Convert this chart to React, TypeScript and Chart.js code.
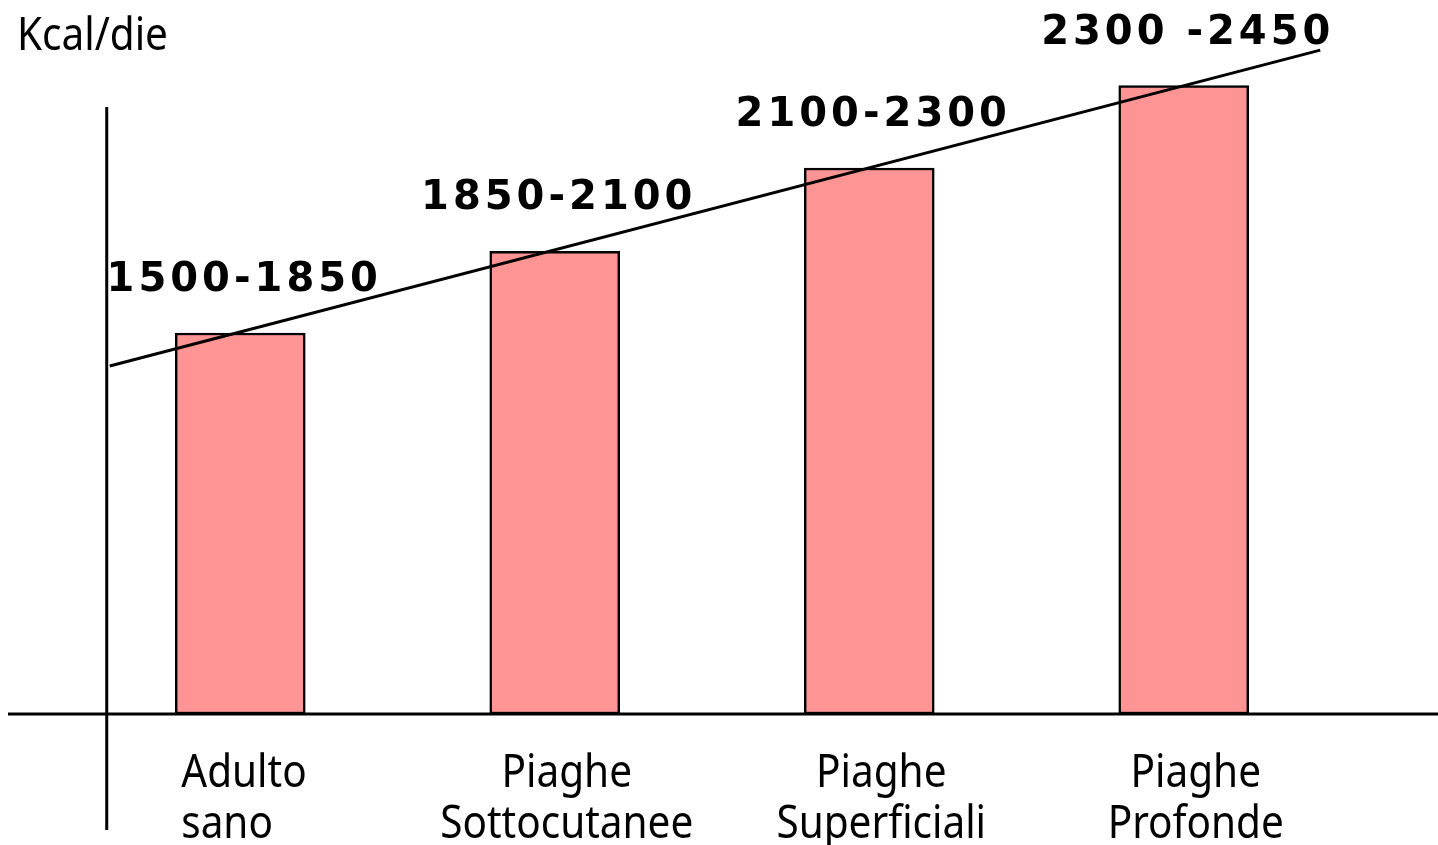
import React, { useEffect, useRef } from "react";
import { Chart, registerables } from "chart.js";

Chart.register(...registerables);

const categoryLines: string[][] = [
  ["Adulto", "sano"],
  ["Piaghe", "Sottocutanee"],
  ["Piaghe", "Superficiali"],
  ["Piaghe", "Profonde"],
];
const rangeLabels: string[] = ["1500-1850", "1850-2100", "2100-2300", "2300 -2450"];
// schematic bar heights (arbitrary units)
const barValues: number[] = [4.62, 5.61, 6.62, 7.62];
// trend line end points (category-index units, same y units)
const trendX: number[] = [-0.415, 3.434];
const trendY: number[] = [4.22, 8.05];
const yMax = 8.5;
const yTitle = "Kcal/die";

const labelAlign: CanvasTextAlign[] = ["left", "center", "center", "center"];

const LABEL_FONT = '45px "Noto Sans", sans-serif';
const LABEL_SX = 0.9;

const drawPlugin = {
  id: "drawExtras",
  afterDatasetsDraw(chart: any) {
    const { ctx, chartArea, scales } = chart;
    const xl = scales.xl;
    const y = scales.y;
    const x = scales.x;
    ctx.save();
    // axes
    ctx.strokeStyle = "#000";
    ctx.lineWidth = 3;
    const y0 = y.getPixelForValue(0);
    ctx.beginPath();
    ctx.moveTo(8, y0);
    ctx.lineTo(chart.width, y0);
    ctx.stroke();
    const ax = xl.getPixelForValue(trendX[0]) - 3;
    ctx.beginPath();
    ctx.moveTo(ax, chartArea.top + 94);
    ctx.lineTo(ax, chartArea.bottom + 116);
    ctx.stroke();

    // range labels above bars
    const meta = chart.getDatasetMeta(0);
    ctx.fillStyle = "#000";
    ctx.font = 'bold 40px "DejaVu Sans", sans-serif';
    (ctx as any).letterSpacing = "4px";
    ctx.textAlign = "center";
    ctx.textBaseline = "alphabetic";
    meta.data.forEach((bar: any, i: number) => {
      ctx.fillText(rangeLabels[i], bar.x + 4, bar.y - 42);
    });
    (ctx as any).letterSpacing = "0px";

    // category labels
    ctx.font = LABEL_FONT;
    categoryLines.forEach((lines, i) => {
      const bar = meta.data[i];
      const cx = labelAlign[i] === "left" ? bar.x - bar.width / 2 + 6 : x.getPixelForValue(i) + 12;
      lines.forEach((t, j) => {
        ctx.save();
        ctx.translate(cx, y0 + 73 + j * 51);
        ctx.scale(LABEL_SX, 1);
        ctx.textAlign = labelAlign[i];
        ctx.fillText(t, 0, 0);
        ctx.restore();
      });
    });

    // y title
    ctx.save();
    ctx.translate(17, 50);
    ctx.scale(LABEL_SX, 1);
    ctx.textAlign = "left";
    ctx.fillText(yTitle, 0, 0);
    ctx.restore();

    ctx.restore();
  },
};

export default function App() {
  const ref = useRef<HTMLCanvasElement>(null);
  useEffect(() => {
    if (!ref.current) return;
    const chart = new Chart(ref.current, {
      type: "bar",
      data: {
        labels: categoryLines.map((l) => l.join(" ")),
        datasets: [
          {
            type: "bar",
            data: barValues,
            backgroundColor: "#FF9494",
            borderColor: "#000",
            borderWidth: 2.5,
            borderSkipped: false,
            barThickness: 130,
            grouped: false,
            xAxisID: "x",
            order: 2,
          } as any,
          {
            type: "line",
            data: trendX.map((v, i) => ({ x: v, y: trendY[i] })),
            borderColor: "#000",
            borderWidth: 3,
            pointRadius: 0,
            xAxisID: "xl",
            order: 1,
          } as any,
        ],
      },
      options: {
        responsive: false,
        animation: false,
        devicePixelRatio: 1,
        layout: { padding: { left: 83, right: 97, top: 13, bottom: 131 } },
        plugins: { legend: { display: false }, tooltip: { enabled: false } },
        scales: {
          x: { type: "category", display: false, offset: true },
          xl: { type: "linear", display: false, min: -0.5, max: 3.5, offset: false },
          y: { display: false, min: 0, max: yMax },
        },
      },
      plugins: [drawPlugin],
    });
    return () => chart.destroy();
  }, []);
  return (
    <div style={{ position: "absolute", left: 0, top: 0, width: 1438, height: 845, background: "#fff" }}>
      <canvas ref={ref} width={1438} height={845} style={{ display: "block" }} />
    </div>
  );
}
